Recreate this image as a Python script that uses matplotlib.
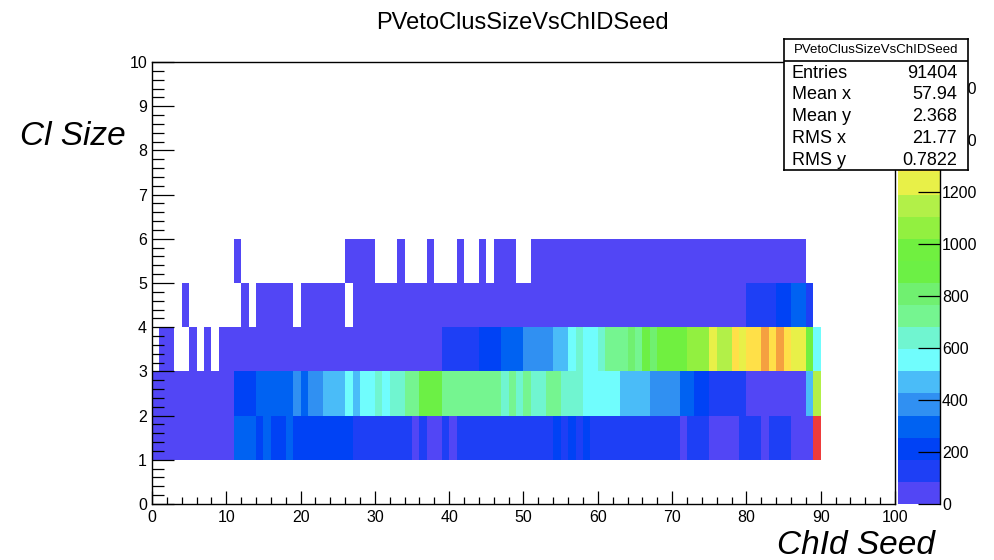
import numpy as np
import matplotlib.pyplot as plt
from matplotlib.colors import ListedColormap, BoundaryNorm
from matplotlib.ticker import MultipleLocator

plt.rcParams['font.family'] = ['Liberation Sans', 'DejaVu Sans']

# contenuto dei bin per canale seed (bin 0..89), una lista per dimensione del cluster
size1 = [38, 52, 47, 41, 55, 49, 44, 60, 51, 48,
         57, 290, 305, 310, 240, 275, 230, 245, 270, 235,
         240, 228, 250, 236, 244, 232, 215, 150, 160, 145,
         155, 162, 148, 158, 140, 78, 120, 80, 76, 118,
         79, 150, 155, 160, 152, 148, 158, 162, 150, 145,
         155, 160, 152, 157, 190, 160, 195, 165, 188, 160,
         155, 150, 148, 152, 158, 145, 140, 150, 142, 138,
         130, 80, 120, 125, 118, 75, 70, 78, 72, 100,
         110, 105, 80, 108, 102, 112, 70, 65, 74, 1697]

size2 = [55, 60, 58, 62, 57, 64, 59, 66, 61, 63,
         68, 200, 215, 225, 280, 295, 300, 310, 320, 345,
         330, 350, 365, 440, 455, 470, 520, 490, 540, 555,
         600, 570, 620, 640, 700, 720, 860, 880, 870, 740,
         730, 750, 720, 745, 735, 710, 700, 670, 690, 665,
         685, 660, 650, 688, 690, 640, 630, 610, 580, 560,
         545, 530, 520, 490, 470, 455, 435, 400, 380, 370,
         350, 320, 290, 240, 200, 160, 140, 130, 120, 110,
         80, 75, 70, 65, 72, 60, 55, 68, 450, 1150]

size3 = [0, 30, 25, 0, 0, 12, 0, 10, 0, 15,
         18, 20, 22, 25, 27, 28, 30, 32, 35, 36,
         38, 40, 42, 45, 47, 48, 50, 52, 55, 57,
         58, 60, 62, 65, 67, 70, 72, 75, 78, 95,
         105, 115, 125, 135, 175, 190, 205, 265, 285, 300,
         350, 365, 380, 400, 440, 470, 540, 610, 560, 575,
         630, 700, 720, 740, 790, 745, 880, 820, 950, 960,
         980, 1000, 1040, 1060, 1080, 1220, 1130, 1150, 1390, 1240,
         1400, 1380, 1560, 1410, 1580, 1420, 1250, 1230, 960, 550]

size4 = [0, 0, 0, 0, 3, 0, 0, 0, 0, 0,
         0, 0, 2, 0, 3, 4, 3, 5, 4, 0,
         5, 6, 5, 7, 6, 8, 0, 8, 9, 11,
         10, 12, 13, 12, 14, 16, 15, 17, 18, 20,
         19, 21, 23, 22, 25, 24, 27, 29, 28, 31,
         33, 32, 35, 37, 36, 39, 41, 40, 43, 45,
         44, 47, 49, 48, 51, 53, 52, 56, 58, 57,
         60, 62, 61, 65, 67, 66, 70, 72, 74, 78,
         100, 110, 115, 120, 180, 190, 260, 280, 140, 0]

size5 = [0, 0, 0, 0, 0, 0, 0, 0, 0, 0,
         0, 1, 0, 0, 0, 0, 0, 0, 0, 0,
         0, 0, 0, 0, 0, 0, 1, 2, 1, 2,
         0, 0, 0, 1, 0, 0, 0, 2, 0, 0,
         0, 1, 0, 0, 2, 0, 2, 1, 3, 0,
         0, 3, 4, 3, 5, 4, 6, 5, 7, 6,
         8, 7, 9, 8, 10, 9, 11, 12, 10, 13,
         14, 12, 15, 16, 14, 17, 18, 16, 19, 20,
         21, 19, 22, 24, 23, 25, 26, 28, 0, 0]

cluster_sizes = [1, 2, 3, 4, 5]
rows = [size1, size2, size3, size4, size5]

stats_labels = ['Entries', 'Mean x', 'Mean y', 'RMS x', 'RMS y']
stats_values = ['91404', '57.94', '2.368', '21.77', '0.7822']

# palette stile ROOT (20 contorni)
palette = ['#5246F5', '#1E3FF5', '#0042F5', '#0062F2', '#3090F2',
           '#4ABCF8', '#70FDFD', '#70F5D0', '#75F590', '#70F070',
           '#6CF045', '#70F040', '#92F040', '#B2F048', '#E8F048',
           '#F8E848', '#FFE048', '#F5C045', '#F5A040', '#EE3B3B']
zmax = 1700

x_edges = np.arange(0, 101)
y_edges = np.arange(0, 11)
z = np.zeros((10, 100))
for s, row in zip(cluster_sizes, rows):
    z[s, :len(row)] = row
z = np.ma.masked_equal(z, 0)

fig = plt.figure(figsize=(9.94, 5.6), dpi=100)
ax = fig.add_axes([0.1529, 0.1, 0.7475, 0.7893])

cmap = ListedColormap(palette)
norm = BoundaryNorm(np.linspace(0, zmax, len(palette) + 1), cmap.N)
mesh = ax.pcolormesh(x_edges, y_edges, z, cmap=cmap, norm=norm,
                     edgecolors='none', antialiased=False)

ax.set_xlim(0, 100)
ax.set_ylim(0, 10)
ax.set_xticks(range(0, 101, 10))
ax.set_yticks(range(0, 11))
ax.xaxis.set_minor_locator(MultipleLocator(2))
ax.yaxis.set_minor_locator(MultipleLocator(0.2))
ax.tick_params(axis='x', which='major', direction='in', length=9.4, width=0.9, pad=4, labelsize=11.5)
ax.tick_params(axis='x', which='minor', direction='in', length=4.7, width=0.9)
ax.tick_params(axis='y', which='major', direction='in', length=15.8, width=0.9, pad=3.5, labelsize=11.5)
ax.tick_params(axis='y', which='minor', direction='in', length=8.3, width=0.9)
for sp in ax.spines.values():
    sp.set_linewidth(1)

# barra dei colori
cax = fig.add_axes([0.9034, 0.1, 0.0423, 0.7893])
cb = fig.colorbar(mesh, cax=cax, ticks=range(0, 1601, 200))
cb.outline.set_visible(False)
cb.minorticks_off()
cax.spines['right'].set_visible(True)
cax.spines['right'].set_linewidth(1)
cax.tick_params(direction='in', length=15.8, width=0.9, pad=1.5, labelsize=11.5)

# riquadro statistiche
sax = fig.add_axes([0.7887, 0.6964, 0.1851, 0.2339], zorder=10)
sax.set_facecolor('white')
sax.set_xticks([])
sax.set_yticks([])
sax.set_xlim(0, 1)
sax.set_ylim(0, 1)
for sp in sax.spines.values():
    sp.set_linewidth(1.2)
sax.axhline(0.832, color='black', lw=1.2)
sax.text(0.5, 0.916, 'PVetoClusSizeVsChIDSeed', ha='center', va='center', fontsize=9.5)
ypos = [0.740, 0.580, 0.412, 0.244, 0.076]
for lab, val, yy in zip(stats_labels, stats_values, ypos):
    sax.text(0.043, yy, lab, ha='left', va='center', fontsize=13)
    sax.text(0.94, yy, val, ha='right', va='center', fontsize=13)

fig.text(0.526, 0.959, 'PVetoClusSizeVsChIDSeed', ha='center', va='center', fontsize=17)
fig.text(0.0201, 0.757, 'Cl Size', ha='left', va='center', fontsize=24, style='italic')
fig.text(0.9406, 0.01, 'ChId Seed', ha='right', va='baseline', fontsize=24, style='italic')

fig.savefig('out.png', dpi=100)
